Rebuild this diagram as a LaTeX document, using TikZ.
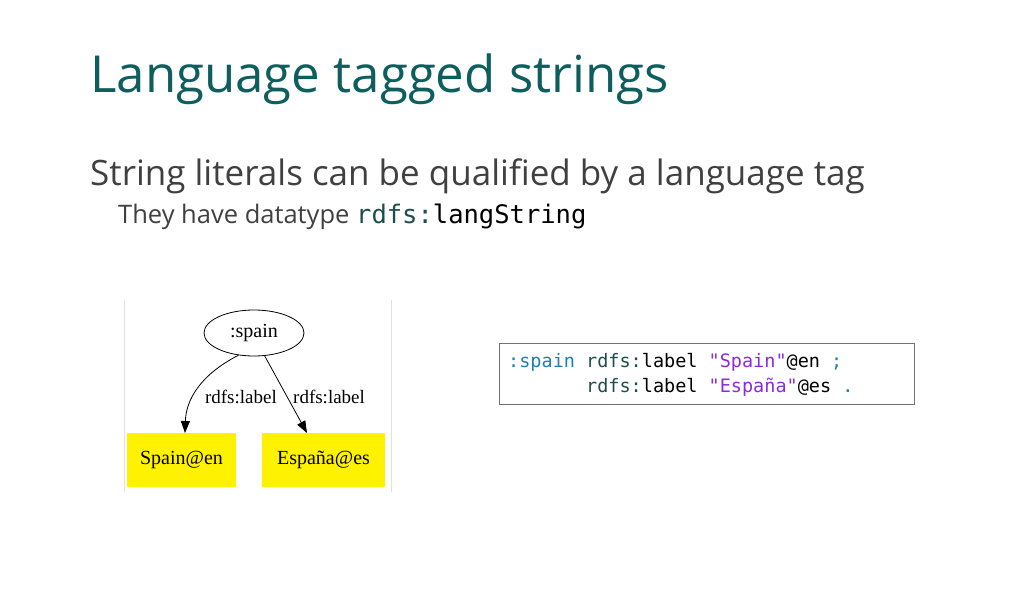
\documentclass[tikz,border=0pt]{standalone}
\usepackage{fontspec}
\setmainfont{Open Sans}
\newfontfamily\graphfont{Liberation Serif}
\newfontfamily\codefont{DejaVu Sans Mono}
\usetikzlibrary{shapes.geometric,arrows.meta}
\definecolor{titleteal}{HTML}{0E5E5E}
\definecolor{bodygrey}{HTML}{404040}
\definecolor{kwblue}{HTML}{1F7FB0}
\definecolor{prefgreen}{HTML}{1E4E4A}
\definecolor{strpurple}{HTML}{8A2BE2}
\tikzset{
  litbox/.style={fill=yellow, minimum height=54pt, inner sep=0pt, font=\graphfont\fontsize{20}{22}\selectfont},
  edgelab/.style={font=\graphfont\fontsize{19}{21}\selectfont, inner sep=1pt},
  rdfedge/.style={-{Triangle[length=12pt,width=9pt]}, line width=0.8pt}
}
\begin{document}
\begin{tikzpicture}[x=1pt,y=-1pt]
\useasboundingbox (0,0) rectangle (1024,612);
% slide text
\node (title) [anchor=base west, inner sep=0pt, text=titleteal, font=\fontsize{51}{55}\selectfont] at (90,93) {Language tagged strings};
\node (sub) [anchor=base west, inner sep=0pt, text=bodygrey, font=\fontsize{35}{39}\selectfont] at (90,186) {String literals can be qualified by a language tag};
\node (subsub) [anchor=base west, inner sep=0pt, text=bodygrey, font=\fontsize{25.5}{28}\selectfont] at (118,223) {They have datatype {\codefont\color{prefgreen}rdfs:\color{black}langString}};
% graph
\draw[black!12] (124,300) -- (124,492);
\draw[black!12] (391,300) -- (391,492);
\node (spain) [ellipse, draw, line width=0.8pt, minimum width=100pt, minimum height=46pt, font=\graphfont\fontsize{20}{22}\selectfont] at (254,333) {:spain};
\node (en) [litbox, minimum width=109pt] at (181.5,460) {Spain@en};
\node (es) [litbox, minimum width=123pt] at (323.5,460) {España@es};
\coordinate (enTip) at (185,433);
\coordinate (esTip) at (307,433);
\draw[rdfedge] (spain.235) .. controls (200,375) and (186,400) .. (enTip);
\draw[rdfedge] (spain.295) -- (esTip);
\node (labA) [edgelab, anchor=base east] at (278,403) {rdfs:label};
\node (labB) [edgelab, anchor=base west] at (292,403) {rdfs:label};
% turtle code
\node (code) [draw=black!55, line width=0.8pt, minimum width=415pt, minimum height=61pt] at (706.5,373.5) {};
\node (line1) [anchor=base west, inner sep=0pt, font=\codefont\fontsize{18.5}{21}\selectfont] at (508,367)
  {\color{kwblue}:spain \color{prefgreen}rdfs:\color{black}label \color{strpurple}"Spain"\color{black}@en \color{kwblue};};
\node (line2) [anchor=base west, inner sep=0pt, font=\codefont\fontsize{18.5}{21}\selectfont] at (508,392)
  {\phantom{:spain }\color{prefgreen}rdfs:\color{black}label \color{strpurple}"España"\color{black}@es \color{kwblue}.};
\end{tikzpicture}
\end{document}
